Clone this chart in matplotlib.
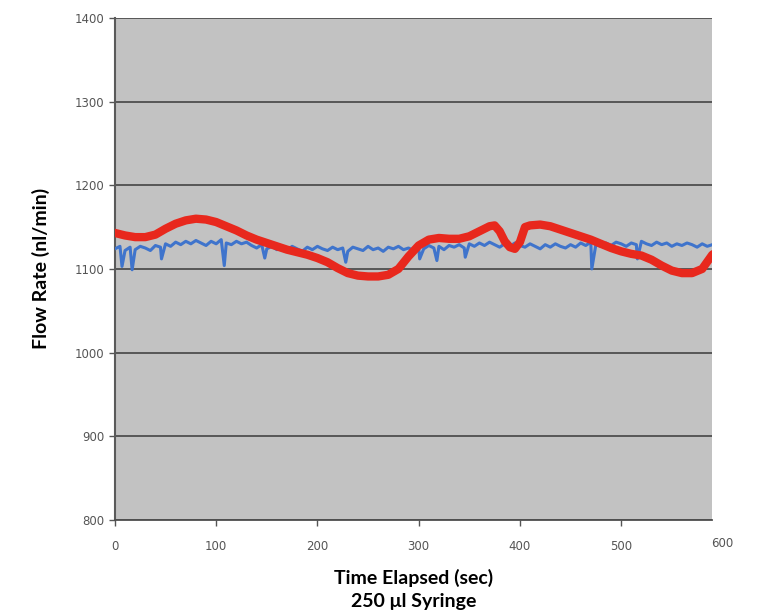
import numpy as np
import matplotlib
matplotlib.use('Agg')
import matplotlib.pyplot as plt

# red trace (10 s steps, plus a few extra points around the kink near 390 s)
red_t = [0, 10, 20, 30, 40, 50, 60, 70, 80, 90, 100, 110, 120, 130, 140, 150,
         160, 170, 180, 190, 200, 210, 220, 230, 240, 250, 260, 270, 280, 290,
         300, 310, 320, 330, 340, 350, 360, 370, 375, 380, 385, 390, 395, 400,
         405, 410, 420, 430, 440, 450, 460, 470, 480, 490, 500, 510, 520, 530,
         540, 550, 560, 570, 580, 590, 600]
red_v = [1143, 1140, 1138, 1138, 1141, 1148, 1154, 1158, 1160, 1159, 1156, 1151,
         1146, 1140, 1135, 1131, 1127, 1123, 1120, 1117, 1113, 1108, 1101, 1095,
         1092, 1091, 1091, 1093, 1100, 1115, 1128, 1135, 1137, 1136, 1136, 1139,
         1145, 1151, 1152, 1145, 1133, 1126, 1124, 1132, 1150, 1152, 1153, 1151,
         1147, 1143, 1139, 1135, 1130, 1125, 1121, 1118, 1116, 1111, 1104, 1098,
         1095, 1095, 1100, 1117, 1124]

# blue trace, 5 s steps
blue_t = list(range(0, 601, 5))
blue_v = [1124, 1127, 1122, 1126, 1123, 1127, 1125, 1122, 1128,
          1126, 1130, 1127, 1132, 1129, 1133, 1130, 1134, 1131, 1128, 1133, 1130,
          1135, 1131, 1129, 1133, 1130, 1132,
          1128, 1125, 1129, 1124, 1127, 1123, 1126, 1122, 1127, 1124, 1121, 1126,
          1123, 1127, 1124, 1122, 1126, 1123, 1125, 1121, 1126, 1124, 1122, 1127,
          1123, 1125, 1121, 1126, 1124, 1127, 1123, 1125, 1122, 1126,
          1124, 1128, 1125, 1127, 1123, 1128, 1126, 1129, 1125, 1130, 1127, 1131,
          1128, 1132, 1129, 1126, 1130, 1127, 1131, 1128,
          1126, 1130, 1127, 1124, 1129, 1126, 1130, 1127, 1125, 1129, 1126, 1131,
          1128, 1132, 1129, 1127, 1131, 1128, 1132, 1130, 1127, 1131, 1129, 1133,
          1130, 1128, 1132, 1129, 1131, 1127, 1130, 1128, 1131, 1129, 1126, 1130,
          1127, 1129, 1126, 1128]
# short downward spikes in the blue trace
spike_t = [7, 17, 46, 108, 148, 228, 301, 318, 346, 471, 516]
spike_v = [1103, 1099, 1112, 1104, 1113, 1108, 1112, 1110, 1114, 1100, 1112]

y_ticks = [800, 900, 1000, 1100, 1200, 1300, 1400]
x_ticks = [0, 100, 200, 300, 400, 500]

bt = np.array(blue_t + spike_t, dtype=float)
bv = np.array(blue_v + spike_v, dtype=float)
order = np.argsort(bt, kind='stable')
bt, bv = bt[order], bv[order]

fig = plt.figure(figsize=(7.61, 6.14), dpi=100)
ax = fig.add_axes([0.151, 0.153, 0.785, 0.818])
ax.set_facecolor('#c2c2c2')

ax.plot(bt, bv, color='#3f74cc', lw=2.2, zorder=3)
ax.plot(red_t, red_v, color='#e8281d', lw=6, solid_joinstyle='round', zorder=4)

ax.set_xlim(0, 590)
ax.set_ylim(800, 1400)
ax.set_yticks(y_ticks)
ax.set_xticks(x_ticks)
ax.yaxis.grid(True, color='#4e4e4e', lw=1.3)
ax.set_axisbelow(True)
for s in ['top', 'right']:
    ax.spines[s].set_visible(False)
ax.spines['left'].set_color('#5a5a5a')
ax.spines['left'].set_linewidth(1.5)
ax.spines['bottom'].set_color('#4e4e4e')
ax.spines['bottom'].set_linewidth(1.3)
ax.tick_params(colors='#555555', labelsize=8.5, length=4, width=1)
ax.tick_params(axis='x', pad=10)
ax.text(600, -0.046, '600', transform=ax.get_xaxis_transform(), ha='center',
        va='center', fontsize=8.5, color='#555555', clip_on=False)

ax.set_ylabel('Flow Rate (nl/min)', fontsize=14, fontweight='bold',
              family='Lato', labelpad=18)
ax.set_xlabel('Time Elapsed (sec)\n250 μl Syringe', fontsize=14,
              fontweight='bold', family='Lato', labelpad=12, linespacing=1.4)

fig.savefig('out.png', dpi=100)
